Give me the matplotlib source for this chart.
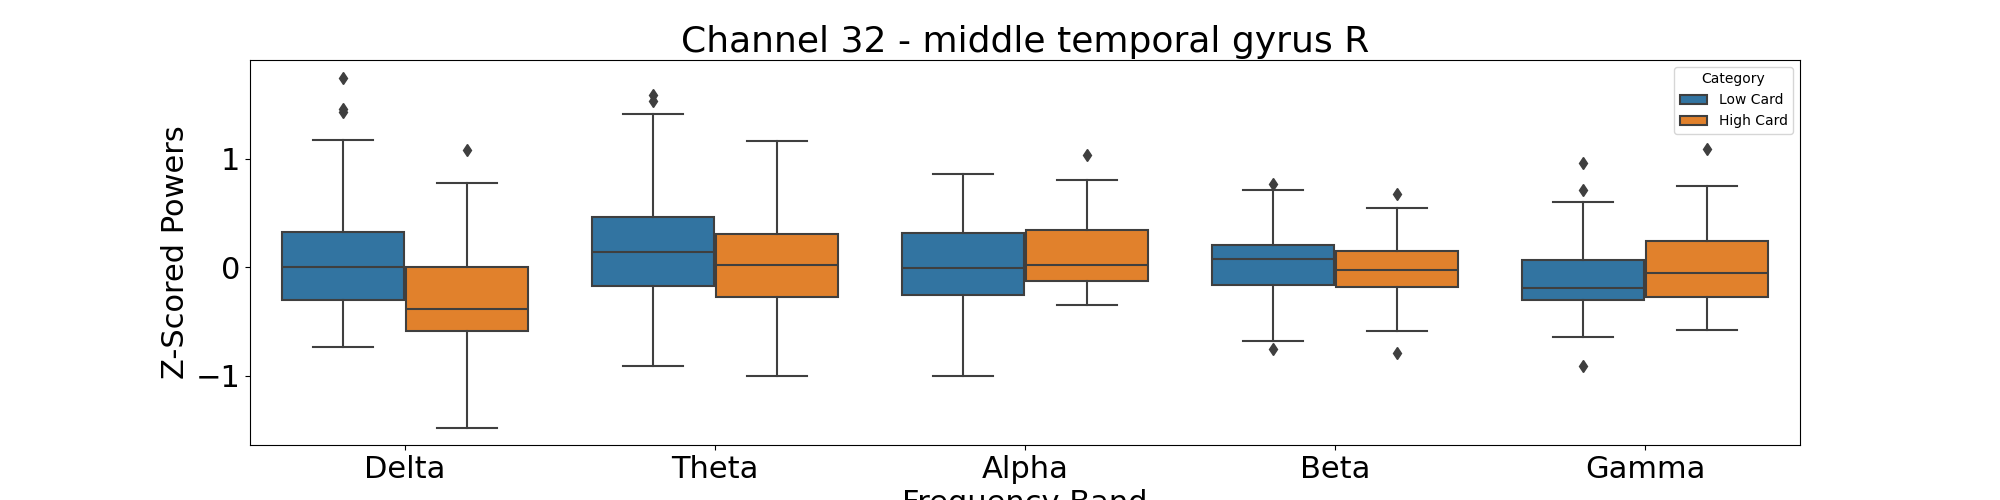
import matplotlib
matplotlib.use("Agg")
import matplotlib.pyplot as plt
import numpy as np
from matplotlib.patches import Patch

bands = ["Delta", "Theta", "Alpha", "Beta", "Gamma"]
categories = ["Low Card", "High Card"]
colors = ["#3274a1", "#e1812c"]

# per band: [whislo, q1, median, q3, whishi]
low_card = [
    [-0.73, -0.30, 0.005, 0.325, 1.17],
    [-0.91, -0.17, 0.14, 0.465, 1.41],
    [-1.005, -0.255, -0.005, 0.32, 0.86],
    [-0.675, -0.165, 0.08, 0.205, 0.71],
    [-0.64, -0.30, -0.19, 0.07, 0.60],
]
high_card = [
    [-1.475, -0.59, -0.385, 0.005, 0.78],
    [-1.005, -0.27, 0.02, 0.305, 1.165],
    [-0.345, -0.125, 0.02, 0.345, 0.805],
    [-0.585, -0.18, -0.02, 0.155, 0.545],
    [-0.575, -0.27, -0.05, 0.245, 0.75],
]
low_out = [[1.75, 1.46, 1.43], [1.59, 1.53], [], [0.765, -0.755], [0.965, 0.715, -0.905]]
high_out = [[1.085], [], [1.04], [0.675, -0.79], [1.095]]

fig = plt.figure(figsize=(20, 5), dpi=100)
ax = plt.axes()

gray = "#3f3f3f"
lw = 1.5
width = 0.4 * 0.98
for k, (data, outs) in enumerate([(low_card, low_out), (high_card, high_out)]):
    stats = []
    for vals, fl in zip(data, outs):
        stats.append({"whislo": vals[0], "q1": vals[1], "med": vals[2],
                      "q3": vals[3], "whishi": vals[4], "fliers": fl})
    pos = np.arange(len(bands)) - 0.2 + 0.4 * k
    ax.bxp(stats, positions=pos, widths=width, patch_artist=True, manage_ticks=False,
           boxprops=dict(facecolor=colors[k], edgecolor=gray, linewidth=lw),
           medianprops=dict(color=gray, linewidth=lw),
           whiskerprops=dict(color=gray, linewidth=lw),
           capprops=dict(color=gray, linewidth=lw),
           flierprops=dict(marker="d", markerfacecolor=gray, markeredgecolor=gray,
                           markersize=6, linestyle="none"))

ax.set_xlim(-0.5, len(bands) - 0.5)
ax.set_xticks(range(len(bands)))
ax.set_xticklabels(bands, fontsize=22)
ax.tick_params(axis="y", labelsize=22)
ax.set_yticks([-1, 0, 1])
ax.set_xlabel("Frequency Band", fontsize=22)
ax.set_ylabel("Z-Scored Powers", fontsize=22)
ax.set_title("Channel 32 - middle temporal gyrus R", fontsize=26)

handles = [Patch(facecolor=c, edgecolor=gray, linewidth=lw) for c in colors]
ax.legend(handles, categories, title="Category", loc="upper right")

fig.savefig("out.png")
